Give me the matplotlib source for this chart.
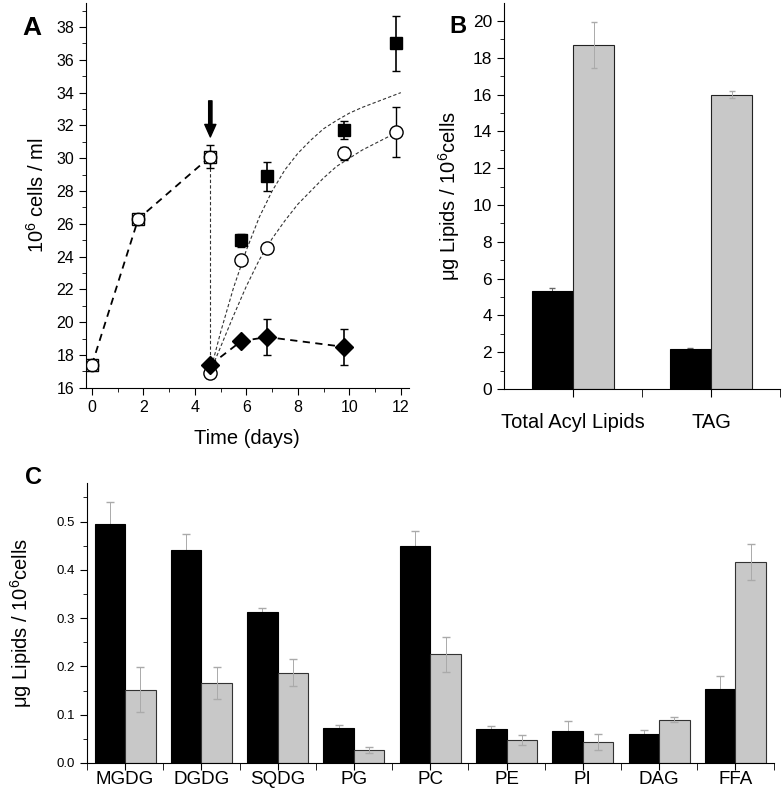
import numpy as np
import matplotlib.pyplot as plt
from matplotlib.ticker import MultipleLocator

plt.rcParams['font.family'] = ['Liberation Sans', 'DejaVu Sans']
plt.rcParams['mathtext.fontset'] = 'custom'
plt.rcParams['mathtext.rm'] = 'Liberation Sans'
plt.rcParams['mathtext.it'] = 'Liberation Sans:italic'

# ---- panel A data (10^6 cells / ml) ----
pre_x = [0, 1.8, 4.6]
pre_y = [17.4, 26.3, 30.1]
pre_err = [0.2, 0.3, 0.7]

sq_x = [5.8, 6.8, 9.8, 11.8]
sq_y = [25.0, 28.9, 31.7, 37.0]
sq_err = [0.4, 0.9, 0.55, 1.7]

circ_x = [4.6, 5.8, 6.8, 9.8, 11.8]
circ_y = [16.9, 23.8, 24.5, 30.3, 31.6]
circ_err = [0.3, 0.2, 0.2, 0.4, 1.5]

dia_x = [4.6, 5.8, 6.8, 9.8]
dia_y = [17.4, 18.85, 19.1, 18.5]
dia_err = [0.1, 0.2, 1.1, 1.1]

# fitted curves
fit_x = [4.6, 5.0, 5.5, 6.0, 6.5, 7.0, 7.5, 8.0, 8.5, 9.0, 9.5, 10.0, 10.5, 11.0, 11.5, 12.0]
fit_upper = [17.0, 19.4, 22.1, 24.4, 26.4, 28.0, 29.3, 30.3, 31.1, 31.8, 32.3, 32.75, 33.1, 33.4, 33.7, 34.0]
fit_lower = [17.0, 18.5, 20.4, 22.2, 23.8, 25.1, 26.2, 27.2, 28.0, 28.8, 29.5, 30.0, 30.5, 30.9, 31.3, 31.6]

# ---- panel B data ----
b_cats = ['Total Acyl Lipids', 'TAG']
b_black = [5.3, 2.2]
b_black_err = [0.2, 0.03]
b_gray = [18.7, 16.0]
b_gray_err = [1.25, 0.2]

# ---- panel C data ----
c_cats = ['MGDG', 'DGDG', 'SQDG', 'PG', 'PC', 'PE', 'PI', 'DAG', 'FFA']
c_black = [0.495, 0.442, 0.312, 0.072, 0.450, 0.070, 0.066, 0.060, 0.153]
c_black_err = [0.045, 0.033, 0.010, 0.006, 0.031, 0.007, 0.020, 0.009, 0.028]
c_gray = [0.152, 0.165, 0.187, 0.027, 0.225, 0.047, 0.044, 0.090, 0.416]
c_gray_err = [0.046, 0.033, 0.028, 0.007, 0.037, 0.010, 0.017, 0.005, 0.037]

GRAY = '#c8c8c8'

fig = plt.figure(figsize=(7.83, 7.90), dpi=100)


def clean(ax):
    ax.spines['top'].set_visible(False)
    ax.spines['right'].set_visible(False)
    ax.tick_params(which='both', direction='out')
    ax.tick_params(which='major', length=5)
    ax.tick_params(which='minor', length=3)


# ================= A =================
axA = fig.add_axes([0.1098, 0.509, 0.412, 0.4873])
clean(axA)

axA.plot(fit_x, fit_upper, ls=(0, (3, 2)), color='#333333', lw=0.8, zorder=1)
axA.plot(fit_x, fit_lower, ls=(0, (3, 2)), color='#333333', lw=0.8, zorder=1)
axA.plot([pre_x[-1], circ_x[0]], [pre_y[-1], circ_y[0]], ls=(0, (3, 2)),
         color='#333333', lw=0.8, zorder=1)

axA.plot(pre_x, pre_y, ls=(0, (4, 3)), color='black', lw=1.3, zorder=1)
axA.errorbar(pre_x, pre_y, yerr=pre_err, fmt='s', mfc='white', mec='black',
             ms=9, mew=1, ecolor='black', elinewidth=1, capsize=3, zorder=3)
axA.plot(pre_x, pre_y, 'o', mfc='none', mec='black', ms=9, mew=0.9, zorder=4)

axA.plot(dia_x, dia_y, ls=(0, (4, 3)), color='black', lw=1.3, zorder=1)

axA.errorbar(circ_x, circ_y, yerr=circ_err, fmt='o', mfc='white', mec='black',
             ms=9.5, mew=1, ecolor='black', elinewidth=1, capsize=3, zorder=3)
axA.errorbar(sq_x, sq_y, yerr=sq_err, fmt='s', color='black',
             ms=8.5, ecolor='black', elinewidth=1.2, capsize=3, zorder=3)
axA.errorbar(dia_x, dia_y, yerr=dia_err, fmt='D', color='black',
             ms=9, ecolor='black', elinewidth=1.2, capsize=3, zorder=4)

axA.annotate('', xy=(4.6, 31.3), xytext=(4.6, 33.5),
             arrowprops=dict(facecolor='black', edgecolor='black',
                             width=2.4, headwidth=8, headlength=9))

axA.set_xlim(-0.23, 12.3)
axA.set_ylim(16, 39.47)
axA.xaxis.set_major_locator(MultipleLocator(2))
axA.xaxis.set_minor_locator(MultipleLocator(1))
axA.yaxis.set_major_locator(MultipleLocator(2))
axA.yaxis.set_minor_locator(MultipleLocator(1))
axA.tick_params(labelsize=11.5)
axA.set_xlabel('Time (days)', fontsize=14.5, labelpad=10)
axA.set_ylabel(r'$\mathregular{10^6}$ cells / ml', fontsize=14.5, labelpad=6)

# ================= B =================
axB = fig.add_axes([0.6437, 0.5076, 0.3525, 0.4886])
clean(axB)
xb = np.arange(len(b_cats))
w = 0.3
axB.bar(xb - w / 2, b_black, w, color='black', edgecolor='black', lw=0.8, zorder=2)
axB.bar(xb + w / 2, b_gray, w, color=GRAY, edgecolor='#222222', lw=0.8, zorder=2)
axB.errorbar(xb - w / 2, b_black, yerr=b_black_err, fmt='none', ecolor='#666666',
             elinewidth=0.7, capsize=2.5, zorder=1)
axB.errorbar(xb + w / 2, b_gray, yerr=b_gray_err, fmt='none', ecolor='#aaaaaa',
             elinewidth=0.7, capsize=2.5, zorder=3)
axB.set_xlim(-0.5, 1.5)
axB.set_ylim(0, 20.98)
axB.set_xticks(xb)
axB.set_xticklabels(b_cats, fontsize=14.5)
axB.set_xticks([0.5, 1.5], minor=True)
axB.yaxis.set_major_locator(MultipleLocator(2))
axB.yaxis.set_minor_locator(MultipleLocator(1))
axB.tick_params(axis='y', labelsize=12.5)
axB.tick_params(axis='x', which='both', length=6, pad=11)
axB.set_ylabel(r'$\mathregular{\mu}$g Lipids / $\mathregular{10^6}$cells', fontsize=14.5, labelpad=8)

# ================= C =================
axC = fig.add_axes([0.111, 0.0342, 0.877, 0.3544])
clean(axC)
xc = np.arange(len(c_cats))
w = 0.4
axC.bar(xc - w / 2, c_black, w, color='black', edgecolor='black', lw=0.8, zorder=2)
axC.bar(xc + w / 2, c_gray, w, color=GRAY, edgecolor='#333333', lw=0.8, zorder=2)
axC.errorbar(xc - w / 2, c_black, yerr=c_black_err, fmt='none', ecolor='#aaaaaa',
             elinewidth=0.7, capsize=3, zorder=1)
axC.errorbar(xc + w / 2, c_gray, yerr=c_gray_err, fmt='none', ecolor='#aaaaaa',
             elinewidth=0.7, capsize=3, zorder=3)
axC.set_xlim(-0.5, 8.5)
axC.set_ylim(0, 0.58)
axC.set_xticks(xc)
axC.set_xticklabels(c_cats, fontsize=13.5)
axC.set_xticks(np.arange(-0.5, 9, 1), minor=True)
axC.yaxis.set_major_locator(MultipleLocator(0.1))
axC.yaxis.set_minor_locator(MultipleLocator(0.05))
axC.yaxis.set_major_formatter(plt.FormatStrFormatter('%.1f'))
axC.tick_params(axis='y', labelsize=9.5)
axC.tick_params(axis='x', which='both', length=5, pad=1)
axC.set_ylabel(r'$\mathregular{\mu}$g Lipids / $\mathregular{10^6}$cells', fontsize=14.5, labelpad=16)

# panel letters
fig.text(0.041, 0.965, 'A', fontsize=19, fontweight='bold', ha='center', va='center')
fig.text(0.585, 0.967, 'B', fontsize=17, fontweight='bold', ha='center', va='center')
fig.text(0.043, 0.396, 'C', fontsize=17, fontweight='bold', ha='center', va='center')

fig.savefig('out.png', dpi=100)
